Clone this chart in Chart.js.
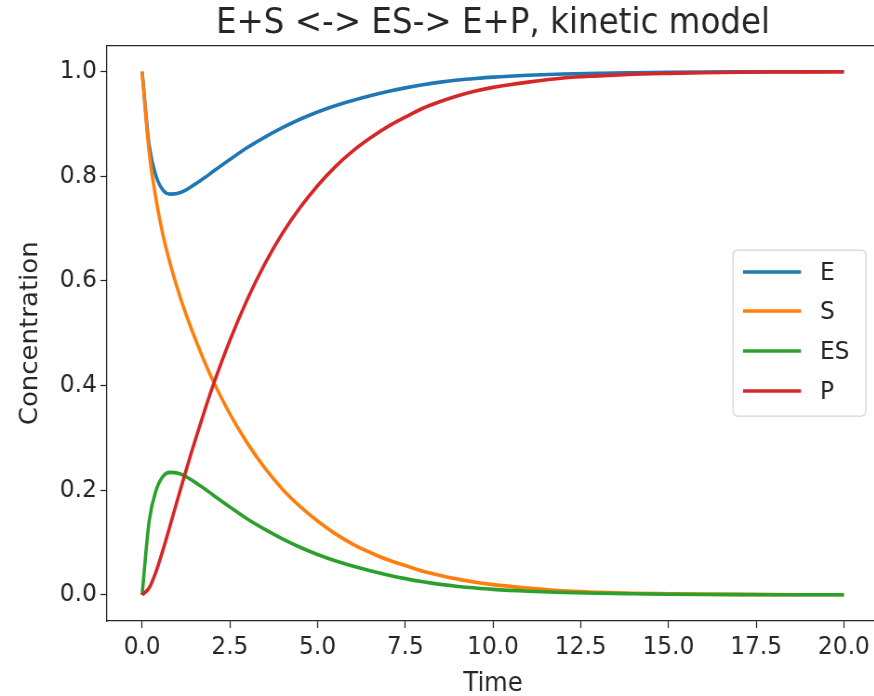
<!DOCTYPE html>
<html>
<head>
<meta charset="utf-8">
<script src="https://cdn.jsdelivr.net/npm/chart.js@4"></script>
<style>
  html, body { margin: 0; padding: 0; background: #fff; overflow: hidden; }
  #wrap { width: 874px; height: 696px; overflow: hidden; position: relative; }
  #kinetics { display: block; }
</style>
</head>
<body>
<div id="wrap"><canvas id="kinetics"></canvas></div>
<script>
// values
const timePoints = [0, 0.2, 0.4, 0.6, 0.8, 1.0, 1.2, 1.4, 1.6, 1.8, 2.0, 2.5, 3.0, 3.5, 4.0, 4.5, 5.0, 5.5, 6.0,
    6.5, 7.0, 7.5, 8.0, 8.5, 9.0, 9.5, 10, 11, 12, 13, 14, 15, 16, 17, 18, 19, 20];
const concE = [1.0, 0.86, 0.80, 0.773, 0.766, 0.767, 0.772, 0.780, 0.789, 0.798, 0.808, 0.832, 0.855, 0.875, 0.893,
    0.909, 0.923, 0.935, 0.945, 0.954, 0.962, 0.969, 0.975, 0.980, 0.984, 0.987, 0.9895, 0.993, 0.9955, 0.997,
    0.998, 0.9988, 0.9993, 0.9996, 0.99975, 0.99985, 0.9999];
const concS = [1.0, 0.847, 0.755, 0.686, 0.633, 0.587, 0.546, 0.509, 0.475, 0.442, 0.412, 0.346, 0.290, 0.242, 0.202,
    0.169, 0.141, 0.117, 0.097, 0.081, 0.067, 0.056, 0.045, 0.037, 0.030, 0.024, 0.0195, 0.013, 0.0075, 0.005,
    0.003, 0.0021, 0.0013, 0.0008, 0.00045, 0.00025, 0.0001];
const concES = [0, 0.14, 0.20, 0.227, 0.234, 0.233, 0.228, 0.220, 0.211, 0.202, 0.192, 0.168, 0.145, 0.125, 0.107,
    0.091, 0.077, 0.065, 0.055, 0.046, 0.038, 0.031, 0.025, 0.020, 0.016, 0.013, 0.0105, 0.007, 0.0045, 0.003,
    0.002, 0.0012, 0.0007, 0.0004, 0.00025, 0.00015, 0.0001];
const concP = [0, 0.013, 0.045, 0.087, 0.133, 0.180, 0.226, 0.271, 0.314, 0.356, 0.396, 0.486, 0.565, 0.633, 0.691,
    0.740, 0.782, 0.818, 0.848, 0.873, 0.895, 0.913, 0.930, 0.943, 0.954, 0.963, 0.970, 0.980, 0.988, 0.992,
    0.995, 0.9967, 0.998, 0.9988, 0.9993, 0.9996, 0.9998];
const seriesNames = ['E', 'S', 'ES', 'P'];
const seriesColors = ['#1f77b4', '#ff7f0e', '#2ca02c', '#d62728'];
const xTicks = [0, 2.5, 5, 7.5, 10, 12.5, 15, 17.5, 20];
const yTicks = [0, 0.2, 0.4, 0.6, 0.8, 1.0];

const K = 0.93;          // reference text is squeezed horizontally
const CSS_W = 890, H = 696;
const W = Math.round(CSS_W / K);
const INK = '#262626';
const FONT = '"DejaVu Sans", sans-serif';
const LINE_W = 3.6;

const canvas = document.getElementById('kinetics');
canvas.width = W;
canvas.height = H;
canvas.style.width = CSS_W + 'px';
canvas.style.height = H + 'px';

const toXY = (ys) => timePoints.map((t, i) => ({ x: t, y: ys[i] }));
const allSeries = [concE, concS, concES, concP];

// title, axis names, top spine and legend box
const decorations = {
    id: 'decorations',
    afterDraw(chart) {
        const ctx = chart.ctx;
        const ca = chart.chartArea;
        ctx.save();
        ctx.strokeStyle = INK;
        ctx.lineWidth = 1.25;
        ctx.beginPath();
        ctx.moveTo(ca.left, ca.top);
        ctx.lineTo(ca.right, ca.top);
        ctx.stroke();

        ctx.fillStyle = INK;
        ctx.textAlign = 'center';
        ctx.textBaseline = 'alphabetic';
        ctx.font = '35px ' + FONT;
        ctx.fillText('E+S <-> ES-> E+P, kinetic model', (ca.left + ca.right) / 2, 33);
        ctx.font = '26px ' + FONT;
        ctx.fillText('Time', (ca.left + ca.right) / 2, 691);
        ctx.save();
        ctx.translate(37 / K, (ca.top + ca.bottom) / 2);
        ctx.rotate(-Math.PI / 2);
        ctx.fillText('Concentration', 0, 0);
        ctx.restore();

        // legend
        const bx = 733 / K, by = 250, bw = (866 - 733) / K, bh = 166, r = 5;
        ctx.beginPath();
        ctx.moveTo(bx + r, by);
        ctx.arcTo(bx + bw, by, bx + bw, by + bh, r);
        ctx.arcTo(bx + bw, by + bh, bx, by + bh, r);
        ctx.arcTo(bx, by + bh, bx, by, r);
        ctx.arcTo(bx, by, bx + bw, by, r);
        ctx.closePath();
        ctx.fillStyle = 'rgba(255,255,255,0.8)';
        ctx.fill();
        ctx.strokeStyle = '#d5d5d5';
        ctx.lineWidth = 1.25;
        ctx.stroke();

        const rows = [272, 311, 351, 391];
        ctx.font = '25px ' + FONT;
        ctx.textAlign = 'left';
        ctx.textBaseline = 'middle';
        chart.data.datasets.forEach((ds, i) => {
            ctx.strokeStyle = ds.borderColor;
            ctx.lineWidth = LINE_W;
            ctx.beginPath();
            ctx.moveTo(743 / K, rows[i]);
            ctx.lineTo(801 / K, rows[i]);
            ctx.stroke();
            ctx.fillStyle = INK;
            ctx.fillText(ds.label, 820 / K, rows[i] + 1);
        });
        ctx.restore();
    }
};

new Chart(canvas, {
    type: 'line',
    data: {
        datasets: seriesNames.map((name, i) => ({
            label: name,
            data: toXY(allSeries[i]),
            borderColor: seriesColors[i],
            backgroundColor: seriesColors[i],
            borderWidth: LINE_W,
            pointRadius: 0,
            cubicInterpolationMode: 'monotone',
            fill: false,
            order: 3 - i
        }))
    },
    options: {
        responsive: false,
        animation: false,
        devicePixelRatio: 1,
        layout: { padding: { top: 45.5, right: W - 879 / K, left: 0, bottom: 0 } },
        plugins: { legend: { display: false }, title: { display: false }, tooltip: { enabled: false } },
        scales: {
            x: {
                type: 'linear',
                min: -1,
                max: 21,
                afterBuildTicks: (s) => { s.ticks = xTicks.map(v => ({ value: v })); },
                afterFit: (s) => { s.height = H - 621; },
                grid: { drawOnChartArea: false, drawTicks: true, tickLength: 7, tickWidth: 1.25, tickColor: INK },
                border: { display: true, color: INK, width: 1.25 },
                ticks: {
                    color: INK,
                    padding: 4,
                    font: { family: FONT, size: 25 },
                    callback: (v) => Number(v).toFixed(1)
                }
            },
            y: {
                type: 'linear',
                min: -0.05,
                max: 1.05,
                afterBuildTicks: (s) => { s.ticks = yTicks.map(v => ({ value: v })); },
                afterFit: (s) => { s.width = 107 / K; },
                grid: { drawOnChartArea: false, drawTicks: true, tickLength: 7, tickWidth: 1.25, tickColor: INK },
                border: { display: true, color: INK, width: 1.25 },
                ticks: {
                    color: INK,
                    padding: 4,
                    font: { family: FONT, size: 25 },
                    callback: (v) => Number(v).toFixed(1)
                }
            }
        }
    },
    plugins: [decorations]
});
</script>
</body>
</html>
